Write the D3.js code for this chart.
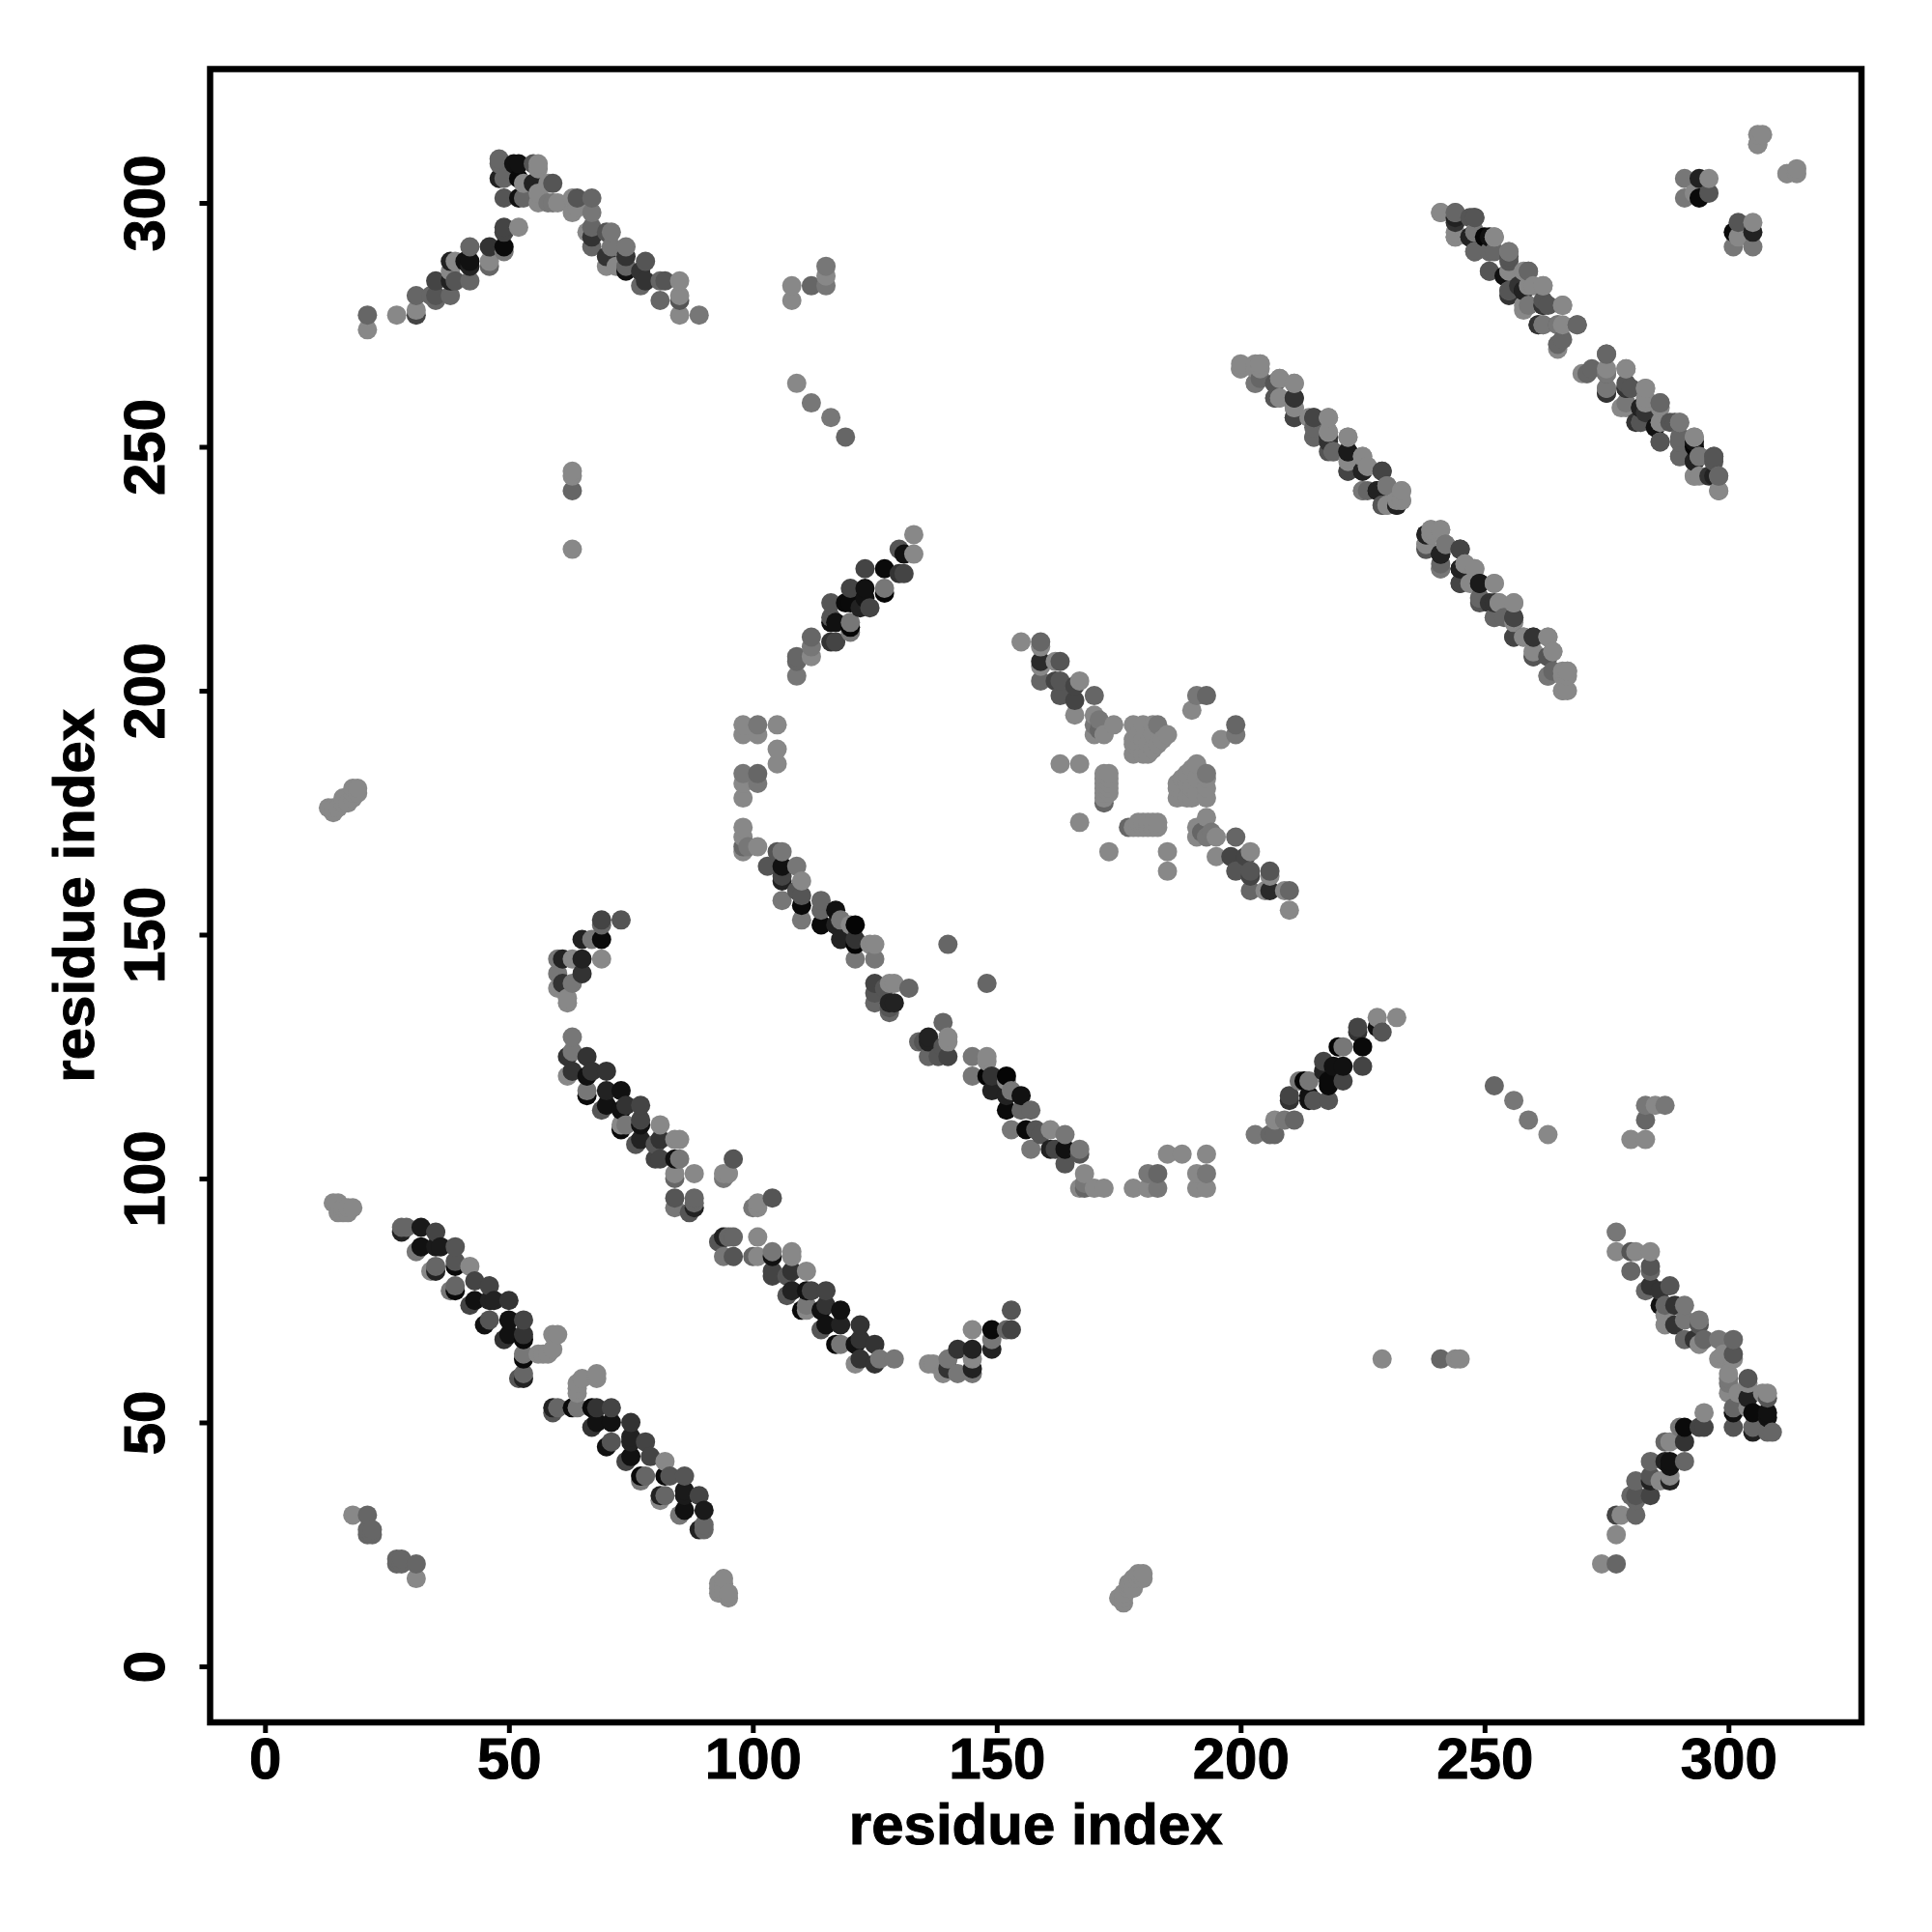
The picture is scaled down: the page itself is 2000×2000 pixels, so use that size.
<!DOCTYPE html>
<html><head><meta charset="utf-8">
<script src="https://cdn.jsdelivr.net/npm/d3@7"></script>
<style>html,body{margin:0;background:#fff}</style></head>
<body><div id="chart"></div>
<script>
const xTicks=[0,50,100,150,200,250,300];
const yTicks=[0,50,100,150,200,250,300];
const axisTitle="residue index";
// contacts [residue i, residue j, grey level]; the map is symmetric, so each is also drawn as (j,i)
const strandA=[[28,89,0x22],[28,90,0x66],[29,90,0x66],[32,90,0x1a],[35,89,0x44],[31,85,0x77],[32,86,0x11],[35,86,0x1a],[36,86,0x1a],[39,86,0x55],[34,81,0x88],[35,81,0x22],[35,82,0x66],[39,82,0x0a],[39,83,0x55],[42,82,0x88],[38,77,0x77],[39,77,0x0a],[39,78,0x66],[43,79,0x44],[46,78,0x44],[42,74,0x44],[43,75,0x11],[46,75,0x22],[47,75,0x22],[50,75,0x33],[45,70,0x11],[46,71,0x55],[50,71,0x11],[53,71,0x44],[49,67,0x33],[50,68,0x11],[53,67,0x0a],[53,68,0x33],[53,63,0x0a],[53,64,0x77],[59,68,0x88],[60,68,0x88],[59,65,0x88],[58,64,0x88],[57,64,0x88],[56,64,0x88],[52,59,0x55],[53,59,0x22],[53,60,0x66]];
const strandB=[[63,129,0x77],[62,125,0x33],[63,126,0x77],[66,125,0x33],[62,121,0x88],[63,122,0x33],[66,121,0x11],[67,122,0x33],[70,122,0x33],[66,117,0x0a],[66,118,0x77],[69,114,0x55],[70,115,0x11],[70,118,0x22],[73,118,0x11],[73,114,0x11],[74,115,0x33],[77,115,0x44],[73,110,0x0a],[73,111,0x88],[74,111,0x77],[77,111,0x11],[77,112,0x44],[81,111,0x88],[76,107,0x55],[77,108,0x22],[80,107,0x55],[81,108,0x33],[84,108,0x88],[85,108,0x88],[80,104,0x44],[81,104,0x44],[84,104,0x11],[85,104,0x77],[84,100,0x66],[84,101,0x88],[88,101,0x88],[84,94,0x77],[84,96,0x55],[87,93,0x55],[88,94,0x22],[88,95,0x66],[88,96,0x66],[96,104,0x55],[94,100,0x77],[94,101,0x88],[95,101,0x88]];
const strandC=[[98,193,0x88],[98,191,0x88],[101,193,0x77],[101,191,0x88],[105,193,0x88],[105,188,0x88],[105,185,0x88],[98,183,0x77],[101,183,0x66],[101,181,0x77],[98,181,0x88],[98,178,0x88],[98,172,0x88],[98,170,0x88],[98,167,0x88],[98,168,0x66],[99,168,0x77],[101,168,0x88],[105,167,0x55],[106,167,0x77],[103,164,0x55],[106,164,0x11],[109,164,0x77],[106,161,0x22],[106,162,0x44],[110,161,0x88],[109,159,0x55],[110,158,0x55],[110,156,0x0a],[106,157,0x77],[110,153,0x77],[114,157,0x66],[114,155,0x66],[114,152,0x0a],[117,155,0x11],[118,153,0x77],[117,152,0x22],[121,152,0x05],[120,152,0x88],[118,149,0x22],[121,149,0x33],[121,148,0x05],[124,148,0x88],[125,148,0x88],[121,145,0x77],[125,145,0x77],[140,148,0x66],[125,136,0x66],[125,138,0x55],[125,140,0x44],[128,134,0x66],[128,135,0x55],[129,136,0x22],[128,136,0x22],[127,139,0x55],[128,140,0x88],[129,140,0x88],[132,139,0x66]];
const strandD=[[109,203,0x77],[109,207,0x66],[109,206,0x66],[112,211,0x66],[112,207,0x88],[112,209,0x77],[116,218,0x55],[116,214,0x11],[117,214,0x11],[116,215,0x55],[116,210,0x33],[117,210,0x44],[120,221,0x44],[119,218,0x0a],[120,218,0x0a],[120,212,0x77],[120,213,0x05],[120,214,0x77],[123,225,0x44],[123,221,0x11],[123,219,0x11],[122,217,0x22],[124,217,0x44],[127,225,0x0a],[127,220,0x05],[127,221,0x77],[130,229,0x55],[131,228,0x11],[131,224,0x44],[130,224,0x33],[133,232,0x88],[133,228,0x88]];
const strandE=[[21,277,0x66],[21,274,0x88],[27,277,0x88],[31,281,0x66],[31,277,0x44],[31,278,0x88],[35,284,0x44],[34,281,0x66],[35,280,0x66],[35,281,0x55],[38,281,0x66],[39,284,0x55],[38,284,0x22],[38,288,0x22],[39,288,0x88],[38,286,0x88],[42,291,0x66],[41,288,0x11],[42,288,0x11],[42,287,0x22],[42,284,0x66],[46,291,0x33],[46,287,0x66],[46,288,0x88],[49,295,0x44],[49,294,0x44],[49,290,0x77],[49,291,0x0a],[52,295,0x88]];
const strandF=[[48,309,0x66],[48,308,0x66],[51,308,0x11],[52,308,0x11],[55,308,0x55],[56,307,0x88],[56,308,0x88],[48,305,0x22],[49,305,0x66],[52,305,0x0a],[53,304,0x88],[49,301,0x55],[52,301,0x11],[53,301,0x66],[55,304,0x22],[58,304,0x88],[59,304,0x55],[56,300,0x88],[56,302,0x88],[58,300,0x77],[59,300,0x77],[60,300,0x88],[63,301,0x88],[64,301,0x55],[63,298,0x88],[64,299,0x88],[67,301,0x66],[67,298,0x77],[67,293,0x33],[66,294,0x88],[67,295,0x66],[67,291,0x66],[70,294,0x55],[71,294,0x77],[71,291,0x77],[70,289,0x33],[70,287,0x88],[72,287,0x88],[74,289,0x33],[74,291,0x77],[74,286,0x11],[74,287,0x66],[77,286,0x33],[78,288,0x55],[78,284,0x33],[77,283,0x66],[81,284,0x66],[82,284,0x55],[85,284,0x88],[85,280,0x55],[85,281,0x88],[81,280,0x66],[85,277,0x88],[89,277,0x77]];
const strandG=[[200,266,0x88],[204,267,0x88],[203,267,0x88],[203,263,0x88],[204,264,0x66],[207,263,0x55],[208,264,0x88],[211,263,0x88],[207,260,0x44],[208,260,0x88],[211,260,0x33],[211,258,0x66],[211,256,0x44],[215,256,0x44],[214,256,0x88],[218,256,0x88],[215,252,0x66],[218,251,0x33],[218,253,0x88],[218,249,0x55],[219,249,0x77],[222,252,0x88],[222,249,0x22],[222,245,0x44],[225,248,0x88],[225,245,0x22],[226,246,0x88],[229,245,0x44],[225,241,0x77],[226,241,0x66],[228,241,0x11],[230,242,0x77],[233,241,0x88],[232,238,0x22],[232,239,0x88],[233,239,0x88],[229,238,0x66],[230,238,0x77]];
const strandH=[[241,233,0x88],[239,233,0x88],[238,232,0x22],[238,229,0x55],[238,230,0x88],[241,228,0x22],[242,230,0x77],[245,229,0x44],[241,225,0x77],[246,226,0x88],[248,225,0x88],[245,225,0x22],[245,222,0x44],[249,222,0x1a],[247,222,0x88],[252,222,0x88],[249,219,0x66],[252,218,0x33],[253,218,0x88],[256,218,0x88],[252,215,0x66],[254,215,0x66],[256,215,0x44],[256,211,0x44],[258,211,0x88],[260,211,0x33],[263,211,0x88],[260,207,0x55],[260,208,0x88],[263,207,0x55],[264,208,0x88],[263,203,0x77],[266,204,0x88],[267,204,0x88],[266,203,0x88],[266,200,0x88],[267,200,0x88]];
const strandI=[[241,298,0x88],[244,296,0x33],[244,298,0x77],[244,293,0x88],[247,297,0x55],[248,297,0x55],[247,293,0x33],[248,294,0x66],[248,290,0x66],[251,293,0x11],[252,293,0x88],[251,290,0x66],[252,290,0x66],[255,288,0x55],[255,290,0x88],[251,286,0x77],[255,286,0x66],[258,286,0x88],[259,286,0x66],[255,281,0x33],[255,282,0x66],[258,282,0x11],[260,283,0x88],[262,283,0x88],[258,279,0x88],[262,279,0x22],[263,279,0x55],[266,279,0x77],[261,275,0x44],[262,275,0x77],[265,275,0x66],[266,275,0x88],[269,275,0x66],[265,271,0x88],[266,272,0x66]];
const strandJ=[[275,269,0x66],[270,265,0x88],[271,265,0x66],[275,265,0x77],[279,266,0x88],[275,261,0x33],[275,262,0x77],[279,262,0x33],[280,262,0x55],[283,262,0x88],[278,258,0x88],[279,259,0x77],[282,258,0x22],[283,257,0x33],[283,259,0x88],[286,259,0x66],[282,255,0x55],[285,254,0x11],[286,255,0x88],[289,255,0x55],[290,255,0x77],[286,251,0x55],[290,251,0x66],[293,250,0x05],[293,252,0x88],[290,248,0x66],[293,247,0x22],[294,248,0x77],[297,248,0x55],[293,244,0x88],[294,244,0x88],[297,244,0x22],[298,244,0x66],[298,241,0x88]];
const cornerContacts=[[291,305,0x77],[291,301,0x77],[294,305,0x22],[296,305,0x88],[294,301,0x0a],[296,302,0x55],[293,302,0x88],[306,314,0x88],[307,314,0x88],[306,312,0x88],[312,306,0x88]];
const crossStrand=[[60,142,0x77],[61,145,0x22],[61,140,0x33],[60,139,0x88],[62,136,0x88],[62,137,0x88],[60,145,0x77],[63,145,0x88],[63,140,0x77],[65,149,0x22],[65,145,0x22],[65,142,0x33],[67,149,0x77],[69,149,0x0a],[69,145,0x88],[69,152,0x66],[69,153,0x44],[73,153,0x55]];
const loopCluster=[[155,210,0x88],[159,209,0x88],[159,210,0x66],[159,205,0x88],[159,206,0x2a],[162,206,0x88],[163,206,0x55],[159,202,0x66],[162,202,0x44],[163,202,0x55],[166,201,0x44],[167,202,0x88],[163,199,0x55],[166,198,0x44],[170,199,0x66],[166,195,0x88],[170,195,0x88],[170,191,0x88],[170,193,0x77],[171,192,0x66],[172,191,0x88],[171,194,0x77],[174,193,0x88],[178,193,0x88],[180,193,0x88],[182,193,0x88],[183,193,0x77],[185,191,0x88],[184,190,0x88],[183,189,0x88],[178,187,0x88],[180,187,0x88],[181,187,0x88],[178,190,0x88],[178,189,0x88],[179,191,0x88],[180,190,0x88],[181,189,0x88],[182,191,0x88],[182,188,0x88],[191,199,0x77],[193,199,0x66],[190,196,0x88],[163,185,0x88],[167,185,0x88],[172,183,0x88],[173,183,0x88],[172,182,0x88],[173,182,0x88],[172,181,0x88],[173,181,0x88],[172,180,0x88],[173,180,0x88],[172,179,0x88],[173,179,0x88],[172,178,0x88],[172,177,0x66],[167,173,0x88]];
const isolatedContacts=[[13,176,0x88],[14,175,0x88],[14,176,0x88],[15,176,0x88],[16,177,0x88],[16,178,0x88],[17,177,0x88],[18,178,0x88],[18,179,0x88],[19,180,0x88],[19,179,0x88],[18,180,0x88],[14,95,0x88],[15,95,0x88],[15,93,0x88],[16,94,0x88],[17,93,0x88],[17,94,0x88],[18,94,0x88],[16,93,0x88],[18,31,0x88],[21,31,0x66],[21,27,0x66],[21,28,0x66],[22,28,0x66],[22,27,0x66],[63,245,0x88],[63,244,0x88],[63,241,0x66],[63,229,0x88],[108,283,0x88],[108,280,0x88],[112,283,0x66],[115,287,0x77],[115,285,0x88],[115,283,0x77],[109,263,0x88],[112,259,0x77],[116,256,0x77],[119,252,0x66]];

const strands=[strandA,strandB,strandC,strandD,strandE,strandF,strandG,strandH,strandI,strandJ,cornerContacts,crossStrand,loopCluster,isolatedContacts];
const W=2000,H=2000,L=217.5,R=1927,T=71.5,B=1783,PT=10;
const x=d3.scaleLinear().domain([-11.25,327.27]).range([L,R]);
const y=d3.scaleLinear().domain([-11.49,327.43]).range([B,T]);
const svg=d3.select('#chart').append('svg').attr('width',W).attr('height',H).style('display','block');
svg.append('rect').attr('width',W).attr('height',H).attr('fill','#fff');
const pts=strands.flat().flatMap(([i,j,g])=>[{x:i,y:j,g},{x:j,y:i,g}]);
pts.sort((a,b)=>a.x-b.x||a.y-b.y);
svg.append('g').selectAll('circle').data(pts).join('circle')
  .attr('cx',d=>x(d.x)).attr('cy',d=>y(d.y)).attr('r',PT)
  .attr('fill',d=>d3.rgb(d.g,d.g,d.g));
const font='"Liberation Sans",Arial,sans-serif',fs=60;
const gx=svg.append('g').attr('transform',`translate(0,${B})`).call(d3.axisBottom(x).tickValues(xTicks).tickSize(11).tickFormat(d3.format('d')));
const gy=svg.append('g').attr('transform',`translate(${L},0)`).call(d3.axisLeft(y).tickValues(yTicks).tickSize(11).tickFormat(d3.format('d')));
for(const g of [gx,gy]){g.select('.domain').remove();g.selectAll('line').attr('stroke','#000').attr('stroke-width',5);
 g.selectAll('text').attr('fill','#000').attr('stroke','#000').attr('stroke-width',1).style('font',`bold ${fs}px ${font}`);}
gx.selectAll('text').attr('y',58).attr('dy',0).attr('text-anchor','middle');
gy.selectAll('text').attr('x',0).attr('dy',0).attr('y',0).attr('text-anchor','middle').attr('transform','translate(-47.5,0) rotate(-90)');
svg.append('rect').attr('x',L).attr('y',T).attr('width',R-L).attr('height',B-T).attr('fill','none').attr('stroke','#000').attr('stroke-width',6.5);
svg.append('text').attr('x',(L+R)/2).attr('y',1909).attr('text-anchor','middle').attr('stroke','#000').attr('stroke-width',1).style('font',`bold ${fs}px ${font}`).text(axisTitle);
svg.append('text').attr('transform',`translate(97,${(T+B)/2}) rotate(-90)`).attr('text-anchor','middle').attr('stroke','#000').attr('stroke-width',1).style('font',`bold ${fs}px ${font}`).text(axisTitle);
</script></body></html>
